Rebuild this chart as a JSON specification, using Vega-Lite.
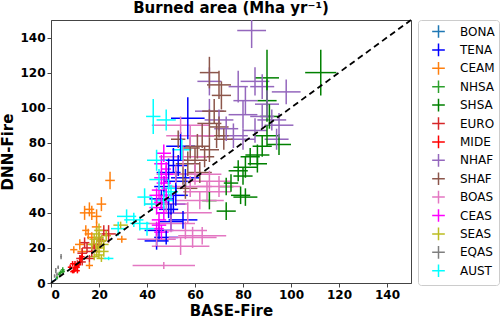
{
  "$schema": "https://vega.github.io/schema/vega-lite/v6.json",
  "autosize": "none",
  "width": 360,
  "height": 263,
  "padding": {"left": 51, "top": 20, "right": 91, "bottom": 33},
  "background": "white",
  "config": {
    "font": "DejaVu Sans",
    "view": {"stroke": "#444", "strokeWidth": 1},
    "axis": {"grid": false, "labelFont": "DejaVu Sans", "labelFontWeight": "bold", "labelFontSize": 12, "labelColor": "black", "labelOverlap": false, "titleFont": "DejaVu Sans", "titleFontWeight": "bold", "titleFontSize": 15, "titleColor": "black", "domainColor": "#444", "tickColor": "#444", "tickSize": 4}
  },
  "title": {"text": "Burned area (Mha yr⁻¹)", "font": "DejaVu Sans", "fontSize": 15, "fontWeight": "bold", "color": "black", "offset": 0, "frame": "group"},
  "datasets": {
    "pts": [
      {"region":"BONA","base":1,"dnn":1,"base_err":0.3,"dnn_err":0.5},
      {"region":"BONA","base":2,"dnn":2.2,"base_err":0.3,"dnn_err":0.5},
      {"region":"BONA","base":0.6,"dnn":0.8,"base_err":0.2,"dnn_err":0.3},
      {"region":"TENA","base":57,"dnn":94,"base_err":7,"dnn_err":12},
      {"region":"TENA","base":54,"dnn":78,"base_err":6,"dnn_err":8},
      {"region":"TENA","base":51,"dnn":70,"base_err":5,"dnn_err":7},
      {"region":"TENA","base":49,"dnn":63,"base_err":5,"dnn_err":8},
      {"region":"TENA","base":47,"dnn":55,"base_err":4,"dnn_err":6},
      {"region":"TENA","base":52,"dnn":50,"base_err":5,"dnn_err":6},
      {"region":"TENA","base":51,"dnn":45,"base_err":5,"dnn_err":5},
      {"region":"TENA","base":55,"dnn":36,"base_err":6,"dnn_err":5},
      {"region":"TENA","base":50,"dnn":35,"base_err":5,"dnn_err":5},
      {"region":"TENA","base":45,"dnn":30,"base_err":6,"dnn_err":5},
      {"region":"TENA","base":44,"dnn":24,"base_err":5,"dnn_err":5},
      {"region":"TENA","base":48,"dnn":26,"base_err":5,"dnn_err":4},
      {"region":"TENA","base":52,"dnn":58,"base_err":5,"dnn_err":6},
      {"region":"TENA","base":49,"dnn":42,"base_err":4,"dnn_err":5},
      {"region":"TENA","base":46,"dnn":48,"base_err":5,"dnn_err":5},
      {"region":"TENA","base":53,"dnn":67,"base_err":4,"dnn_err":6},
      {"region":"TENA","base":56,"dnn":60,"base_err":6,"dnn_err":5},
      {"region":"TENA","base":50,"dnn":40,"base_err":6,"dnn_err":5},
      {"region":"CEAM","base":24.6,"dnn":58.5,"base_err":2,"dnn_err":5},
      {"region":"CEAM","base":21,"dnn":45,"base_err":2,"dnn_err":4},
      {"region":"CEAM","base":16,"dnn":42,"base_err":2,"dnn_err":4},
      {"region":"CEAM","base":14,"dnn":40,"base_err":2,"dnn_err":4},
      {"region":"CEAM","base":17,"dnn":40,"base_err":1.5,"dnn_err":4},
      {"region":"CEAM","base":19,"dnn":38,"base_err":2,"dnn_err":4},
      {"region":"CEAM","base":14.5,"dnn":30,"base_err":1.5,"dnn_err":3},
      {"region":"CEAM","base":15.5,"dnn":28,"base_err":1.5,"dnn_err":3},
      {"region":"CEAM","base":17,"dnn":26,"base_err":2,"dnn_err":3},
      {"region":"CEAM","base":9.5,"dnn":19,"base_err":1.5,"dnn_err":2},
      {"region":"CEAM","base":16,"dnn":10,"base_err":1.5,"dnn_err":2},
      {"region":"CEAM","base":29.5,"dnn":25,"base_err":2,"dnn_err":2},
      {"region":"CEAM","base":19,"dnn":32,"base_err":2,"dnn_err":3},
      {"region":"CEAM","base":12,"dnn":22,"base_err":2,"dnn_err":3},
      {"region":"CEAM","base":18,"dnn":22,"base_err":1.5,"dnn_err":2},
      {"region":"CEAM","base":13,"dnn":18,"base_err":2,"dnn_err":2},
      {"region":"NHSA","base":4.9,"dnn":7.5,"base_err":0.8,"dnn_err":1.5},
      {"region":"NHSA","base":4,"dnn":6,"base_err":0.8,"dnn_err":1.2},
      {"region":"NHSA","base":3.5,"dnn":5,"base_err":0.6,"dnn_err":1},
      {"region":"NHSA","base":5,"dnn":6.5,"base_err":0.8,"dnn_err":1.2},
      {"region":"NHSA","base":2.5,"dnn":3,"base_err":0.5,"dnn_err":1},
      {"region":"SHSA","base":112.4,"dnn":120,"base_err":6.5,"dnn_err":13},
      {"region":"SHSA","base":90,"dnn":117,"base_err":5,"dnn_err":16},
      {"region":"SHSA","base":90,"dnn":104,"base_err":4,"dnn_err":12},
      {"region":"SHSA","base":91,"dnn":95,"base_err":4,"dnn_err":7},
      {"region":"SHSA","base":90,"dnn":84,"base_err":5,"dnn_err":6},
      {"region":"SHSA","base":95,"dnn":79,"base_err":5,"dnn_err":6},
      {"region":"SHSA","base":88,"dnn":78,"base_err":4,"dnn_err":6},
      {"region":"SHSA","base":86,"dnn":73,"base_err":5,"dnn_err":6},
      {"region":"SHSA","base":83,"dnn":72,"base_err":4,"dnn_err":5},
      {"region":"SHSA","base":81,"dnn":66,"base_err":5,"dnn_err":6},
      {"region":"SHSA","base":86,"dnn":68,"base_err":4,"dnn_err":5},
      {"region":"SHSA","base":78,"dnn":64,"base_err":4,"dnn_err":6},
      {"region":"SHSA","base":80,"dnn":61,"base_err":4,"dnn_err":5},
      {"region":"SHSA","base":75,"dnn":57,"base_err":3,"dnn_err":5},
      {"region":"SHSA","base":73,"dnn":55,"base_err":3,"dnn_err":5},
      {"region":"SHSA","base":79,"dnn":50,"base_err":4,"dnn_err":5},
      {"region":"SHSA","base":81,"dnn":49,"base_err":5,"dnn_err":5},
      {"region":"SHSA","base":66,"dnn":47,"base_err":3,"dnn_err":5},
      {"region":"SHSA","base":73,"dnn":41,"base_err":4,"dnn_err":5},
      {"region":"EURO","base":24,"dnn":28,"base_err":3,"dnn_err":5},
      {"region":"EURO","base":20,"dnn":25,"base_err":2,"dnn_err":4},
      {"region":"EURO","base":18,"dnn":22,"base_err":2,"dnn_err":3},
      {"region":"EURO","base":15,"dnn":20,"base_err":2,"dnn_err":3},
      {"region":"EURO","base":13,"dnn":17,"base_err":2,"dnn_err":3},
      {"region":"EURO","base":12,"dnn":14,"base_err":1.5,"dnn_err":2},
      {"region":"EURO","base":17,"dnn":18,"base_err":2,"dnn_err":3},
      {"region":"EURO","base":14,"dnn":23,"base_err":2,"dnn_err":3},
      {"region":"EURO","base":11,"dnn":11,"base_err":1.5,"dnn_err":2},
      {"region":"EURO","base":19,"dnn":20,"base_err":2,"dnn_err":3},
      {"region":"EURO","base":16,"dnn":14,"base_err":2,"dnn_err":2},
      {"region":"EURO","base":21,"dnn":24,"base_err":2,"dnn_err":3},
      {"region":"EURO","base":13,"dnn":12,"base_err":1.5,"dnn_err":2},
      {"region":"EURO","base":22,"dnn":30,"base_err":2,"dnn_err":3},
      {"region":"MIDE","base":10,"dnn":8,"base_err":1,"dnn_err":1.5},
      {"region":"MIDE","base":11,"dnn":9,"base_err":1,"dnn_err":1.5},
      {"region":"MIDE","base":9.5,"dnn":7,"base_err":1,"dnn_err":1.5},
      {"region":"MIDE","base":10.5,"dnn":10,"base_err":1,"dnn_err":1.5},
      {"region":"MIDE","base":12,"dnn":12,"base_err":1,"dnn_err":2},
      {"region":"MIDE","base":9,"dnn":6.5,"base_err":1,"dnn_err":1},
      {"region":"MIDE","base":11,"dnn":7,"base_err":1,"dnn_err":1.5},
      {"region":"MIDE","base":10,"dnn":11,"base_err":1,"dnn_err":1.5},
      {"region":"MIDE","base":12.5,"dnn":14,"base_err":1,"dnn_err":2},
      {"region":"MIDE","base":8,"dnn":9,"base_err":1,"dnn_err":1.5},
      {"region":"MIDE","base":11.5,"dnn":10.5,"base_err":1,"dnn_err":1.5},
      {"region":"MIDE","base":10,"dnn":9,"base_err":1,"dnn_err":1.5},
      {"region":"MIDE","base":9,"dnn":11,"base_err":1,"dnn_err":1.5},
      {"region":"MIDE","base":13,"dnn":15,"base_err":1,"dnn_err":2},
      {"region":"NHAF","base":83.6,"dnn":144,"base_err":6,"dnn_err":10},
      {"region":"NHAF","base":66,"dnn":115,"base_err":5,"dnn_err":8},
      {"region":"NHAF","base":85,"dnn":115,"base_err":6,"dnn_err":8},
      {"region":"NHAF","base":88,"dnn":112,"base_err":5,"dnn_err":7},
      {"region":"NHAF","base":98,"dnn":109,"base_err":6,"dnn_err":7},
      {"region":"NHAF","base":81,"dnn":104,"base_err":5,"dnn_err":8},
      {"region":"NHAF","base":78,"dnn":112,"base_err":4,"dnn_err":9},
      {"region":"NHAF","base":80,"dnn":96,"base_err":6,"dnn_err":8},
      {"region":"NHAF","base":88,"dnn":95,"base_err":5,"dnn_err":7},
      {"region":"NHAF","base":92,"dnn":93,"base_err":6,"dnn_err":6},
      {"region":"NHAF","base":95,"dnn":90,"base_err":6,"dnn_err":7},
      {"region":"NHAF","base":85,"dnn":87,"base_err":5,"dnn_err":7},
      {"region":"NHAF","base":76,"dnn":84,"base_err":6,"dnn_err":7},
      {"region":"NHAF","base":80,"dnn":82,"base_err":5,"dnn_err":6},
      {"region":"NHAF","base":94,"dnn":82,"base_err":5,"dnn_err":6},
      {"region":"NHAF","base":73,"dnn":88,"base_err":5,"dnn_err":7},
      {"region":"NHAF","base":70,"dnn":93,"base_err":6,"dnn_err":6},
      {"region":"NHAF","base":66,"dnn":98,"base_err":6,"dnn_err":7},
      {"region":"NHAF","base":90,"dnn":102,"base_err":5,"dnn_err":8},
      {"region":"SHAF","base":66,"dnn":120,"base_err":4,"dnn_err":9},
      {"region":"SHAF","base":70,"dnn":113,"base_err":5,"dnn_err":8},
      {"region":"SHAF","base":71,"dnn":107,"base_err":4,"dnn_err":8},
      {"region":"SHAF","base":68,"dnn":98,"base_err":5,"dnn_err":7},
      {"region":"SHAF","base":66,"dnn":91,"base_err":5,"dnn_err":8},
      {"region":"SHAF","base":70,"dnn":89,"base_err":4,"dnn_err":6},
      {"region":"SHAF","base":69,"dnn":84,"base_err":5,"dnn_err":7},
      {"region":"SHAF","base":63,"dnn":84,"base_err":5,"dnn_err":7},
      {"region":"SHAF","base":61,"dnn":78,"base_err":5,"dnn_err":7},
      {"region":"SHAF","base":66,"dnn":76,"base_err":4,"dnn_err":7},
      {"region":"SHAF","base":58,"dnn":77,"base_err":4,"dnn_err":6},
      {"region":"SHAF","base":60,"dnn":70,"base_err":5,"dnn_err":7},
      {"region":"SHAF","base":64,"dnn":72,"base_err":4,"dnn_err":6},
      {"region":"SHAF","base":57,"dnn":68,"base_err":5,"dnn_err":7},
      {"region":"SHAF","base":62,"dnn":63,"base_err":5,"dnn_err":6},
      {"region":"SHAF","base":55,"dnn":62,"base_err":4,"dnn_err":6},
      {"region":"SHAF","base":56,"dnn":54,"base_err":5,"dnn_err":6},
      {"region":"SHAF","base":53,"dnn":82,"base_err":3,"dnn_err":5},
      {"region":"SHAF","base":72,"dnn":82,"base_err":4,"dnn_err":6},
      {"region":"BOAS","base":47,"dnn":10,"base_err":13,"dnn_err":2},
      {"region":"BOAS","base":54,"dnn":21,"base_err":12,"dnn_err":5},
      {"region":"BOAS","base":59,"dnn":26,"base_err":10,"dnn_err":6},
      {"region":"BOAS","base":56,"dnn":30,"base_err":9,"dnn_err":5},
      {"region":"BOAS","base":63,"dnn":27,"base_err":10,"dnn_err":5},
      {"region":"BOAS","base":44,"dnn":25,"base_err":8,"dnn_err":4},
      {"region":"BOAS","base":50,"dnn":34,"base_err":10,"dnn_err":5},
      {"region":"BOAS","base":62,"dnn":47,"base_err":10,"dnn_err":5},
      {"region":"BOAS","base":65,"dnn":52,"base_err":10,"dnn_err":6},
      {"region":"BOAS","base":58,"dnn":55,"base_err":9,"dnn_err":6},
      {"region":"BOAS","base":60,"dnn":62,"base_err":11,"dnn_err":6},
      {"region":"BOAS","base":52,"dnn":62,"base_err":8,"dnn_err":5},
      {"region":"BOAS","base":55,"dnn":72,"base_err":10,"dnn_err":6},
      {"region":"BOAS","base":58,"dnn":84,"base_err":10,"dnn_err":6},
      {"region":"BOAS","base":54,"dnn":90,"base_err":12,"dnn_err":5},
      {"region":"BOAS","base":66,"dnn":58,"base_err":9,"dnn_err":6},
      {"region":"BOAS","base":70,"dnn":55,"base_err":9,"dnn_err":6},
      {"region":"BOAS","base":48,"dnn":45,"base_err":9,"dnn_err":5},
      {"region":"BOAS","base":57,"dnn":40,"base_err":10,"dnn_err":6},
      {"region":"CEAS","base":47,"dnn":74,"base_err":3,"dnn_err":5},
      {"region":"CEAS","base":46,"dnn":68,"base_err":3,"dnn_err":5},
      {"region":"CEAS","base":48,"dnn":62,"base_err":3,"dnn_err":5},
      {"region":"CEAS","base":47,"dnn":57,"base_err":3,"dnn_err":4},
      {"region":"CEAS","base":45,"dnn":53,"base_err":3,"dnn_err":5},
      {"region":"CEAS","base":48,"dnn":50,"base_err":3,"dnn_err":4},
      {"region":"CEAS","base":46,"dnn":46,"base_err":3,"dnn_err":4},
      {"region":"CEAS","base":44,"dnn":43,"base_err":3,"dnn_err":4},
      {"region":"CEAS","base":47,"dnn":40,"base_err":3,"dnn_err":4},
      {"region":"CEAS","base":45,"dnn":36,"base_err":3,"dnn_err":4},
      {"region":"CEAS","base":44,"dnn":31,"base_err":3,"dnn_err":4},
      {"region":"CEAS","base":46,"dnn":29,"base_err":3,"dnn_err":4},
      {"region":"CEAS","base":48,"dnn":65,"base_err":2,"dnn_err":4},
      {"region":"CEAS","base":46,"dnn":60,"base_err":3,"dnn_err":4},
      {"region":"CEAS","base":44,"dnn":50,"base_err":3,"dnn_err":4},
      {"region":"CEAS","base":45,"dnn":33,"base_err":3,"dnn_err":3},
      {"region":"SEAS","base":19,"dnn":28,"base_err":2,"dnn_err":4},
      {"region":"SEAS","base":20,"dnn":30,"base_err":2,"dnn_err":4},
      {"region":"SEAS","base":18,"dnn":25,"base_err":2,"dnn_err":3},
      {"region":"SEAS","base":21,"dnn":24,"base_err":2,"dnn_err":3},
      {"region":"SEAS","base":20,"dnn":20,"base_err":2,"dnn_err":3},
      {"region":"SEAS","base":19,"dnn":18,"base_err":2,"dnn_err":3},
      {"region":"SEAS","base":22,"dnn":18,"base_err":2,"dnn_err":3},
      {"region":"SEAS","base":20,"dnn":16,"base_err":2,"dnn_err":2},
      {"region":"SEAS","base":17,"dnn":22,"base_err":2,"dnn_err":3},
      {"region":"SEAS","base":23,"dnn":27,"base_err":2,"dnn_err":3},
      {"region":"SEAS","base":18,"dnn":15,"base_err":2,"dnn_err":2},
      {"region":"SEAS","base":21,"dnn":14,"base_err":2,"dnn_err":2},
      {"region":"SEAS","base":29,"dnn":33,"base_err":3,"dnn_err":2},
      {"region":"SEAS","base":19,"dnn":21,"base_err":2,"dnn_err":3},
      {"region":"SEAS","base":22,"dnn":22,"base_err":2,"dnn_err":3},
      {"region":"SEAS","base":20,"dnn":26,"base_err":2,"dnn_err":3},
      {"region":"EQAS","base":4.2,"dnn":15,"base_err":0.4,"dnn_err":1.5},
      {"region":"EQAS","base":2,"dnn":7,"base_err":0.3,"dnn_err":1.5},
      {"region":"EQAS","base":3,"dnn":9,"base_err":0.3,"dnn_err":1},
      {"region":"EQAS","base":1.5,"dnn":4,"base_err":0.3,"dnn_err":1},
      {"region":"EQAS","base":2.5,"dnn":5,"base_err":0.3,"dnn_err":1},
      {"region":"AUST","base":42.6,"dnn":95,"base_err":3,"dnn_err":10},
      {"region":"AUST","base":48,"dnn":93,"base_err":4,"dnn_err":6},
      {"region":"AUST","base":44,"dnn":70,"base_err":4,"dnn_err":6},
      {"region":"AUST","base":54.5,"dnn":76,"base_err":4,"dnn_err":6},
      {"region":"AUST","base":45,"dnn":59,"base_err":4,"dnn_err":6},
      {"region":"AUST","base":49,"dnn":54,"base_err":3,"dnn_err":5},
      {"region":"AUST","base":39,"dnn":49,"base_err":3,"dnn_err":5},
      {"region":"AUST","base":47,"dnn":47,"base_err":4,"dnn_err":5},
      {"region":"AUST","base":42,"dnn":45,"base_err":3,"dnn_err":4},
      {"region":"AUST","base":31.5,"dnn":38,"base_err":4,"dnn_err":4},
      {"region":"AUST","base":34.5,"dnn":36,"base_err":4,"dnn_err":4},
      {"region":"AUST","base":37,"dnn":34,"base_err":4,"dnn_err":4},
      {"region":"AUST","base":28,"dnn":31,"base_err":3,"dnn_err":4},
      {"region":"AUST","base":40,"dnn":31,"base_err":3,"dnn_err":4},
      {"region":"AUST","base":24,"dnn":14,"base_err":2,"dnn_err":1},
      {"region":"AUST","base":50,"dnn":52,"base_err":3,"dnn_err":4}
    ],
    "diag": [{"v": 0}, {"v": 150}]
  },
  "layer": [
    {
      "data": {"name": "pts"},
      "mark": {"type": "errorbar", "thickness": 1.5, "clip": true},
      "encoding": {
        "x": {"field": "base", "type": "quantitative", "scale": {"domain": [0, 150], "nice": false}, "axis": {"title": "BASE-Fire", "values": [0, 20, 40, 60, 80, 100, 120, 140], "titlePadding": 3}},
        "xError": {"field": "base_err"},
        "y": {"field": "dnn", "type": "quantitative", "scale": {"domain": [0, 150], "nice": false}, "axis": {"title": "DNN-Fire", "values": [0, 20, 40, 60, 80, 100, 120, 140]}},
        "color": {"field": "region", "type": "nominal",
          "scale": {"domain": ["BONA","TENA","CEAM","NHSA","SHSA","EURO","MIDE","NHAF","SHAF","BOAS","CEAS","SEAS","EQAS","AUST"],
                    "range": ["#1f77b4","#0000ff","#ff7f0e","#2ca02c","#008000","#d62728","#ff0000","#9467bd","#8c564b","#e377c2","#ff00ff","#bcbd22","#7f7f7f","#00ffff"]},
          "legend": {"title": null, "orient": "none", "legendX": 367, "legendY": 0, "symbolType": "M-1,0H1M0,-1V1", "symbolSize": 160, "symbolStrokeWidth": 1.5, "symbolOffset": 9, "labelFontSize": 12, "labelFont": "DejaVu Sans", "labelColor": "black", "labelOffset": 14, "rowPadding": -0.6, "padding": 4, "strokeColor": "#ccc", "cornerRadius": 3}
        }
      }
    },
    {
      "data": {"name": "pts"},
      "mark": {"type": "errorbar", "thickness": 1.5, "clip": true},
      "encoding": {
        "y": {"field": "dnn", "type": "quantitative", "axis": {"title": "DNN-Fire", "values": [0, 20, 40, 60, 80, 100, 120, 140]}},
        "yError": {"field": "dnn_err"},
        "x": {"field": "base", "type": "quantitative", "axis": {"title": "BASE-Fire", "values": [0, 20, 40, 60, 80, 100, 120, 140], "titlePadding": 3}},
        "color": {"field": "region", "type": "nominal"}
      }
    },
    {
      "data": {"name": "diag"},
      "mark": {"type": "line", "color": "black", "strokeWidth": 1.8, "strokeDash": [6, 4]},
      "encoding": {
        "x": {"field": "v", "type": "quantitative", "axis": {"title": "BASE-Fire", "values": [0, 20, 40, 60, 80, 100, 120, 140], "titlePadding": 3}},
        "y": {"field": "v", "type": "quantitative", "axis": {"title": "DNN-Fire", "values": [0, 20, 40, 60, 80, 100, 120, 140]}}
      }
    }
  ]
}
